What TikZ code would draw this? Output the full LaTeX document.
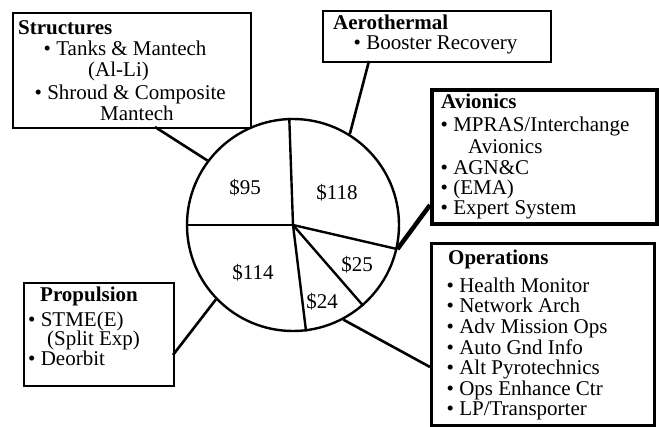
\documentclass[tikz,border=0pt]{standalone}
\usepackage{fontspec}
\setmainfont{Liberation Serif}
\begin{document}
\begin{tikzpicture}[x=1pt,y=-1pt,
  boxn/.style={draw,line width=2.4pt,rectangle,inner sep=0pt,anchor=north west},
  txt/.style={inner sep=0pt,anchor=base west,font=\fontsize{21}{21}\selectfont},
  ttl/.style={txt,font=\fontsize{21}{21}\selectfont\bfseries},
  amt/.style={inner sep=0pt,font=\fontsize{21}{21}\selectfont},
  conn/.style={line width=2.6pt},
  slice/.style={line width=2.4pt}]
\useasboundingbox (0,0) rectangle (659,427);
% boxes
\node[boxn,minimum width=238pt,minimum height=115pt] (sbox) at (12,12) {};
\node[boxn,minimum width=228pt,minimum height=51pt] (abox) at (322,10) {};
\node[boxn,line width=3.8pt,minimum width=225pt,minimum height=134pt] (vbox) at (430,88) {};
\node[boxn,line width=2.6pt,minimum width=223pt,minimum height=182pt] (obox) at (430,242) {};
\node[boxn,minimum width=150pt,minimum height=103pt] (pbox) at (23,282) {};
% pie
\node[draw,circle,line width=2.4pt,minimum size=212pt,inner sep=0pt] (pie) at (293,225) {};
\draw[slice] (pie.center) -- (pie.92);
\draw[slice] (pie.center) -- (pie.180);
\draw[slice] (pie.center) -- (pie.-13);
\draw[slice] (pie.center) -- (pie.-49.5);
\draw[slice] (pie.center) -- (pie.-83);
\node[amt] (p95) at (245,188) {\$95};
\node[amt] (p118) at (337,193) {\$118};
\node[amt] (p25) at (357,265) {\$25};
\node[amt] (p24) at (322,302) {\$24};
\node[amt] (p114) at (253,273) {\$114};
% attach points on boxes
\coordinate (sc) at (155,127);
\coordinate (ac) at (369,61);
\coordinate (vc) at (430,205);
\coordinate (oc) at (430,367);
\coordinate (pc) at (173,355);
\draw[conn] (sc) -- (pie.143);
\draw[conn] (ac) -- (pie.58);
\draw[line width=4.5pt] (vc) -- (pie.-13);
\draw[conn] (oc) -- (pie.-62);
\draw[conn] (pc) -- (pie.-136);
% Structures
\node[ttl] (s0) at (18,35) {Structures};
\node[txt] (s1) at (43.5,56) {• Tanks \& Mantech};
\node[txt] (s2) at (88,77) {(Al-Li)};
\node[txt] (s3) at (34.5,100) {• Shroud \& Composite};
\node[txt] (s4) at (100,121) {Mantech};
% Aerothermal
\node[ttl] (a0) at (333,30) {Aerothermal};
\node[txt] (a1) at (353.5,50) {• Booster Recovery};
% Avionics
\node[ttl] (v0) at (441,109) {Avionics};
\node[txt] (v1) at (440.5,132) {• MPRAS/Interchange};
\node[txt] (v2) at (468,153.5) {Avionics};
\node[txt] (v3) at (440.5,174.5) {• AGN\&C};
\node[txt] (v4) at (440.5,195) {• (EMA)};
\node[txt] (v5) at (440.5,215) {• Expert System};
% Operations
\node[ttl] (o0) at (448,265) {Operations};
\node[txt] (o1) at (446.5,293) {• Health Monitor};
\node[txt] (o2) at (446.5,313) {• Network Arch};
\node[txt] (o3) at (446.5,333.5) {• Adv Mission Ops};
\node[txt] (o4) at (446.5,354.5) {• Auto Gnd Info};
\node[txt] (o5) at (446.5,375) {• Alt Pyrotechnics};
\node[txt] (o6) at (446.5,395.5) {• Ops Enhance Ctr};
\node[txt] (o7) at (446.5,416) {• LP/Transporter};
% Propulsion
\node[ttl] (r0) at (40,302) {Propulsion};
\node[txt] (r1) at (28,327) {• STME(E)};
\node[txt] (r2) at (47,346) {(Split Exp)};
\node[txt] (r3) at (28,366) {• Deorbit};
\end{tikzpicture}
\end{document}
